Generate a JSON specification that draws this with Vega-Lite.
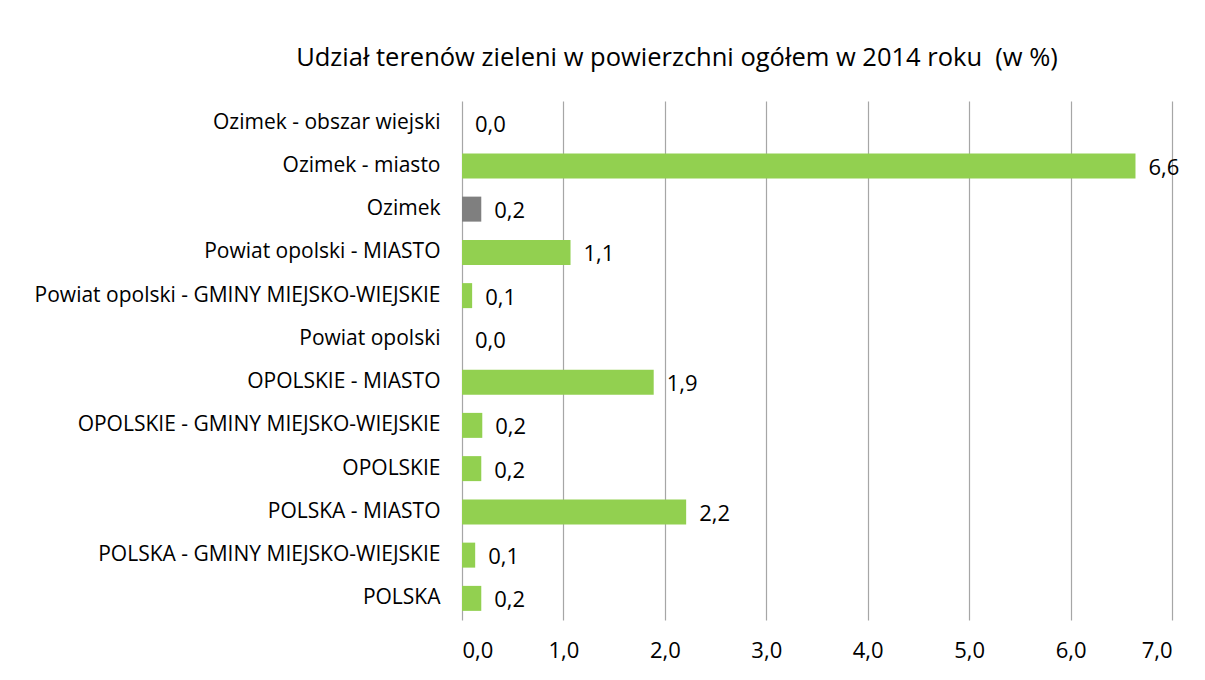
{
  "$schema": "https://vega.github.io/schema/vega-lite/v6.json",
  "width": 710,
  "height": 519,
  "autosize": "none",
  "padding": {"left": 462, "top": 101, "right": 33, "bottom": 60},
  "background": "white",
  "config": {
    "locale": {"number": {"decimal": ",", "thousands": "\u00a0", "grouping": [3], "currency": ["", " zł"]}},
    "view": {"stroke": null},
    "font": "Open Sans"
  },
  "title": {
    "text": "Udział terenów zieleni w powierzchni ogółem w 2014 roku \u00a0(w %)",
    "fontSize": 25.5,
    "fontWeight": "normal",
    "color": "#000000",
    "font": "Open Sans",
    "anchor": "middle",
    "dx": -140,
    "offset": 30
  },
  "data": {
    "values": [
      {"kategoria": "Ozimek - obszar wiejski", "wartosc": 0.0, "typ": "a"},
      {"kategoria": "Ozimek - miasto", "wartosc": 6.64, "typ": "a"},
      {"kategoria": "Ozimek", "wartosc": 0.19, "typ": "b"},
      {"kategoria": "Powiat opolski - MIASTO", "wartosc": 1.07, "typ": "a"},
      {"kategoria": "Powiat opolski - GMINY MIEJSKO-WIEJSKIE", "wartosc": 0.1, "typ": "a"},
      {"kategoria": "Powiat opolski", "wartosc": 0.0, "typ": "a"},
      {"kategoria": "OPOLSKIE - MIASTO", "wartosc": 1.89, "typ": "a"},
      {"kategoria": "OPOLSKIE - GMINY MIEJSKO-WIEJSKIE", "wartosc": 0.2, "typ": "a"},
      {"kategoria": "OPOLSKIE", "wartosc": 0.19, "typ": "a"},
      {"kategoria": "POLSKA - MIASTO", "wartosc": 2.21, "typ": "a"},
      {"kategoria": "POLSKA - GMINY MIEJSKO-WIEJSKIE", "wartosc": 0.13, "typ": "a"},
      {"kategoria": "POLSKA", "wartosc": 0.19, "typ": "a"}
    ]
  },
  "encoding": {
    "y": {
      "field": "kategoria",
      "type": "nominal",
      "sort": null,
      "scale": {"paddingInner": 0.42, "paddingOuter": 0.21},
      "axis": {
        "title": null,
        "labelFontSize": 21,
        "labelColor": "#000000",
        "labelPadding": 22,
        "ticks": false,
        "domain": false,
        "labelLimit": 470
      }
    },
    "x": {
      "field": "wartosc",
      "type": "quantitative",
      "scale": {"domain": [0, 7], "nice": false},
      "axis": {
        "title": null,
        "values": [0, 1, 2, 3, 4, 5, 6, 7],
        "format": ".1f",
        "labelFontSize": 22,
        "labelColor": "#000000",
        "labelPadding": 20,
        "ticks": false,
        "domain": false,
        "grid": true,
        "gridColor": "#a6a6a6",
        "gridWidth": 1.2,
        "gridOpacity": 1
      }
    }
  },
  "layer": [
    {
      "mark": {"type": "bar", "size": 25},
      "encoding": {
        "color": {
          "field": "typ",
          "type": "nominal",
          "scale": {"domain": ["a", "b"], "range": ["#92d050", "#7f7f7f"]},
          "legend": null
        }
      }
    },
    {
      "mark": {"type": "text", "align": "left", "baseline": "middle", "dx": 13, "dy": 2, "fontSize": 22, "color": "#000000"},
      "encoding": {
        "text": {"field": "wartosc", "type": "quantitative", "format": ".1f"}
      }
    }
  ]
}
